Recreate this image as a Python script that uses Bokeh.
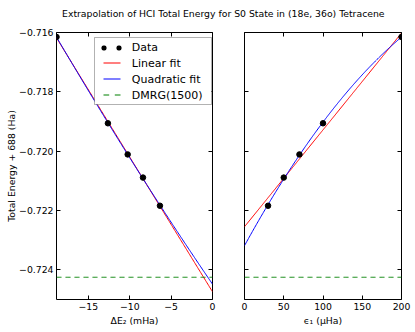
import numpy as np
from bokeh.plotting import figure
from bokeh.models import Range1d, LinearAxis, FixedTicker, Label, BoxAnnotation
from bokeh.layouts import column, row
from bokeh.embed import file_html
from bokeh.resources import INLINE

# ---- data ----
eps1 = [200, 100, 70, 50, 30]                      # epsilon_1 (uHa)
dE2 = [-18.85, -12.64, -10.25, -8.40, -6.35]       # Delta E_2 (mHa)
energy = [-0.71615, -0.71906, -0.72011, -0.72089, -0.72184]  # Total energy + 688 (Ha)
dmrg = -0.72425                                    # DMRG(1500) reference

y_ticks = [-0.724, -0.722, -0.720, -0.718, -0.716]
y_tick_labels = ["\u22120.724", "\u22120.722", "\u22120.720", "\u22120.718", "\u22120.716"]
x1_ticks = [-15, -10, -5, 0]
x1_tick_labels = ["\u221215", "\u221210", "\u22125", "0"]
x2_ticks = [0, 50, 100, 150, 200]
x2_tick_labels = ["0", "50", "100", "150", "200"]
legend_labels = ["Data", "Linear fit", "Quadratic fit", "DMRG(1500)"]

title_text = "Extrapolation of HCI Total Energy for S0 State in (18e, 36o) Tetracene"

FONT = "DejaVu Sans"
TICK_FS = "9.3px"
RED = "#ff0000"
BLUE = "#0000ff"
GREEN = "#008000"

# fits (as in the original analysis)
lin1 = np.polyfit(dE2, energy, 1)
quad1 = np.polyfit(dE2, energy, 2)
xs1 = np.linspace(dE2[0], 0, 200)
lin2 = np.polyfit(eps1, energy, 1)
quad2 = np.polyfit(eps1, energy, 2)
xs2 = np.linspace(0, 200, 200)


def hidden_axis(ticks):
    return LinearAxis(ticker=FixedTicker(ticks=ticks), major_label_text_font_size="1px",
                      major_label_text_color=None, major_label_standoff=0,
                      major_tick_in=4, major_tick_out=0, major_tick_line_color="black",
                      minor_tick_line_color=None, axis_line_color=None)


def style(p, xticks, xlabels, show_ylabels):
    for ax in p.xaxis + p.yaxis:
        ax.major_tick_in = 4
        ax.major_tick_out = 0
        ax.minor_tick_line_color = None
        ax.axis_line_color = None
        ax.major_tick_line_color = "black"
        ax.major_label_text_font = FONT
        ax.major_label_text_font_size = TICK_FS
        ax.major_label_text_color = "black"
        ax.major_label_standoff = 3
        ax.axis_label_text_font = FONT
        ax.axis_label_text_font_size = TICK_FS
        ax.axis_label_text_font_style = "normal"
        ax.axis_label_text_color = "black"
        ax.axis_label_standoff = 2
    p.xaxis.ticker = FixedTicker(ticks=xticks)
    p.xaxis.major_label_overrides = {t: l for t, l in zip(xticks, xlabels)}
    p.yaxis.ticker = FixedTicker(ticks=y_ticks)
    if show_ylabels:
        p.yaxis.major_label_overrides = {t: l for t, l in zip(y_ticks, y_tick_labels)}
        p.yaxis.axis_label_standoff = -1
    else:
        p.yaxis.major_label_text_font_size = "1px"
        p.yaxis.major_label_text_color = None
        p.yaxis.major_label_standoff = 0
    p.add_layout(hidden_axis(xticks), "above")
    p.add_layout(hidden_axis(y_ticks), "right")
    p.xgrid.visible = False
    p.ygrid.visible = False
    p.outline_line_color = "black"
    p.outline_line_width = 1
    p.outline_line_alpha = 1
    p.background_fill_color = "white"
    p.border_fill_color = "white"


def sbox(p, left, right, bottom, top, fill, line=None, radius=0):
    """A box placed in screen units (relative to the plot frame)."""
    b = BoxAnnotation(left=left, right=right, bottom=bottom, top=top,
                      left_units="screen", right_units="screen",
                      bottom_units="screen", top_units="screen",
                      fill_color=fill, fill_alpha=1, line_color=line, line_width=1,
                      border_radius=radius, level="overlay")
    p.add_layout(b)


# ---- title strip ----
p0 = figure(width=415, height=24, x_axis_type=None, y_axis_type=None,
            toolbar_location=None, output_backend="svg", min_border=0,
            outline_line_color=None, x_range=Range1d(0, 1), y_range=Range1d(0, 1))
p0.add_layout(Label(x=222.8, y=11, x_units="screen", y_units="screen", text=title_text,
                    text_align="center", text_baseline="middle", text_font=FONT,
                    text_font_size="9.3px", text_color="black"))

# ---- left panel ----
p1 = figure(width=228, height=308, x_range=Range1d(dE2[0], 0), y_range=Range1d(-0.725, -0.716),
            toolbar_location=None, output_backend="svg",
            min_border_left=56, min_border_right=16, min_border_top=8, min_border_bottom=33,
            x_axis_label="\u0394E\u2082 (mHa)", y_axis_label="Total Energy + 688 (Ha)")
style(p1, x1_ticks, x1_tick_labels, True)

p1.line(xs1, np.polyval(lin1, xs1), line_color=RED, line_width=1)
p1.line(xs1, np.polyval(quad1, xs1), line_color=BLUE, line_width=1)
p1.line(xs1, np.full_like(xs1, dmrg), line_color=GREEN, line_width=1, line_dash="5 4")
p1.scatter(dE2, energy, size=5.5, color="black")

# legend (matplotlib style: two markers for the data entry)
sbox(p1, 38, 155, 195, 262, "white", line="black")
sbox(p1, 45, 50, 249, 254, "black", radius=2)
sbox(p1, 60, 65, 249, 254, "black", radius=2)
sbox(p1, 47, 64, 236, 237, RED)
sbox(p1, 47, 64, 220, 221, BLUE)
sbox(p1, 47, 52.7, 204, 205, GREEN)
sbox(p1, 58.3, 64, 204, 205, GREEN)
for lab, yy in zip(legend_labels, [252, 236.5, 220.5, 204.5]):
    p1.add_layout(Label(x=75.3, y=yy, x_units="screen", y_units="screen", text=lab,
                        text_align="left", text_baseline="middle", text_font=FONT,
                        text_font_size="11px", text_color="black", level="overlay"))

# ---- right panel ----
p2 = figure(width=187, height=308, x_range=Range1d(0, 200), y_range=Range1d(-0.725, -0.716),
            toolbar_location=None, output_backend="svg",
            min_border_left=16, min_border_right=14, min_border_top=8, min_border_bottom=33,
            x_axis_label="\u03f5\u2081 (\u03bcHa)")
style(p2, x2_ticks, x2_tick_labels, False)

p2.line(xs2, np.full_like(xs2, dmrg), line_color=GREEN, line_width=1, line_dash="5 4")
p2.line(xs2, np.polyval(lin2, xs2), line_color=RED, line_width=1)
p2.line(xs2, np.polyval(quad2, xs2), line_color=BLUE, line_width=1)
p2.scatter(eps1, energy, size=5.5, color="black")

layout = column(p0, row(p1, p2))
open("out.html", "w").write(file_html(layout, INLINE))
